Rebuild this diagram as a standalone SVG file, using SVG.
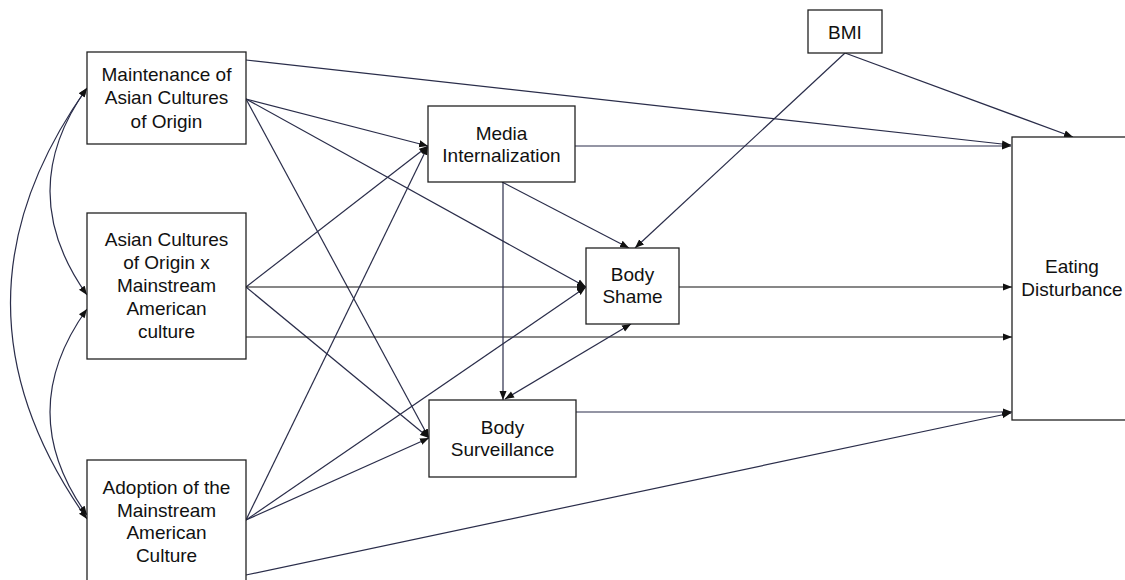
<svg xmlns="http://www.w3.org/2000/svg" width="1125" height="580" viewBox="0 0 1125 580">
<style>
.box{fill:#fff;stroke:#222;stroke-width:1.3}
.t{font-family:"Liberation Sans",Arial,sans-serif;font-size:19px;fill:#111;text-anchor:middle}
.c{fill:none;stroke:#2a2d4a;stroke-width:1.2}
.k{fill:none;stroke:#111;stroke-width:1.2}
</style>
<defs>
<marker id="ah" markerUnits="userSpaceOnUse" markerWidth="10" markerHeight="8" refX="9" refY="4" orient="auto">
<path d="M0,0.5 L9,4 L0,7.5 z" fill="#111"/>
</marker>
<marker id="as" markerUnits="userSpaceOnUse" markerWidth="10" markerHeight="8" refX="0" refY="4" orient="auto">
<path d="M9,0.5 L0,4 L9,7.5 z" fill="#111"/>
</marker>
</defs>
<g id="connectors">
<path class="c" d="M87,88 Q-66,303 87,519" marker-start="url(#as)" marker-end="url(#ah)"/>
<path class="c" d="M87,88 Q13,191 87,295" marker-start="url(#as)" marker-end="url(#ah)"/>
<path class="c" d="M87,309 Q13,412 87,515" marker-start="url(#as)" marker-end="url(#ah)"/>
<path class="c" d="M246,60 L1011,145" marker-end="url(#ah)"/>
<path class="c" d="M246,99 L428,146" marker-end="url(#ah)"/>
<path class="c" d="M246,99 L586,287" marker-end="url(#ah)"/>
<path class="c" d="M246,99 L429,438" marker-end="url(#ah)"/>
<path class="c" d="M246,287 L428,146" marker-end="url(#ah)"/>
<path class="k" d="M246,287 L586,287" marker-end="url(#ah)"/>
<path class="c" d="M246,287 L429,438" marker-end="url(#ah)"/>
<path class="k" d="M246,337 L1012,337" marker-end="url(#ah)"/>
<path class="c" d="M246,520 L428,146" marker-end="url(#ah)"/>
<path class="c" d="M246,520 L586,287" marker-end="url(#ah)"/>
<path class="c" d="M246,520 L429,438" marker-end="url(#ah)"/>
<path class="c" d="M246,575 L1011,413" marker-end="url(#ah)"/>
<path class="c" d="M575,146 L1011,146" marker-end="url(#ah)"/>
<path class="c" d="M502,182 L629,248" marker-end="url(#ah)"/>
<path class="c" d="M503,182 L503,400" marker-end="url(#ah)"/>
<path class="c" d="M505,399 L631,324" marker-start="url(#as)" marker-end="url(#ah)"/>
<path class="c" d="M845,53 L635,248" marker-end="url(#ah)"/>
<path class="c" d="M845,53 L1073,137" marker-end="url(#ah)"/>
<path class="k" d="M679,287 L1012,287" marker-end="url(#ah)"/>
<path class="c" d="M576,412 L1012,412" marker-end="url(#ah)"/>
</g>
<g id="maintenance">
<rect class="box" x="87" y="52" width="159" height="92"/>
<text class="t" x="166.5" y="81">Maintenance of</text>
<text class="t" x="166.5" y="104">Asian Cultures</text>
<text class="t" x="166.5" y="128">of Origin</text>
</g>
<g id="interaction">
<rect class="box" x="87" y="213" width="159" height="146"/>
<text class="t" x="166.5" y="246">Asian Cultures</text>
<text class="t" x="166.5" y="269">of Origin x</text>
<text class="t" x="166.5" y="292">Mainstream</text>
<text class="t" x="166.5" y="315">American</text>
<text class="t" x="166.5" y="338">culture</text>
</g>
<g id="adoption">
<rect class="box" x="87" y="460" width="159" height="130"/>
<text class="t" x="166.5" y="494">Adoption of the</text>
<text class="t" x="166.5" y="517">Mainstream</text>
<text class="t" x="166.5" y="539">American</text>
<text class="t" x="166.5" y="562">Culture</text>
</g>
<g id="media">
<rect class="box" x="428" y="106" width="147" height="76"/>
<text class="t" x="501.5" y="140">Media</text>
<text class="t" x="501.5" y="162">Internalization</text>
</g>
<g id="shame">
<rect class="box" x="586" y="248" width="93" height="76"/>
<text class="t" x="632.5" y="281">Body</text>
<text class="t" x="632.5" y="303">Shame</text>
</g>
<g id="surveillance">
<rect class="box" x="429" y="400" width="147" height="77"/>
<text class="t" x="502.5" y="434">Body</text>
<text class="t" x="502.5" y="456">Surveillance</text>
</g>
<g id="bmi">
<rect class="box" x="808" y="10" width="74" height="43"/>
<text class="t" x="845" y="39">BMI</text>
</g>
<g id="eating">
<rect class="box" x="1012" y="137" width="125" height="283"/>
<text class="t" x="1072" y="273">Eating</text>
<text class="t" x="1072" y="296">Disturbance</text>
</g>
</svg>
